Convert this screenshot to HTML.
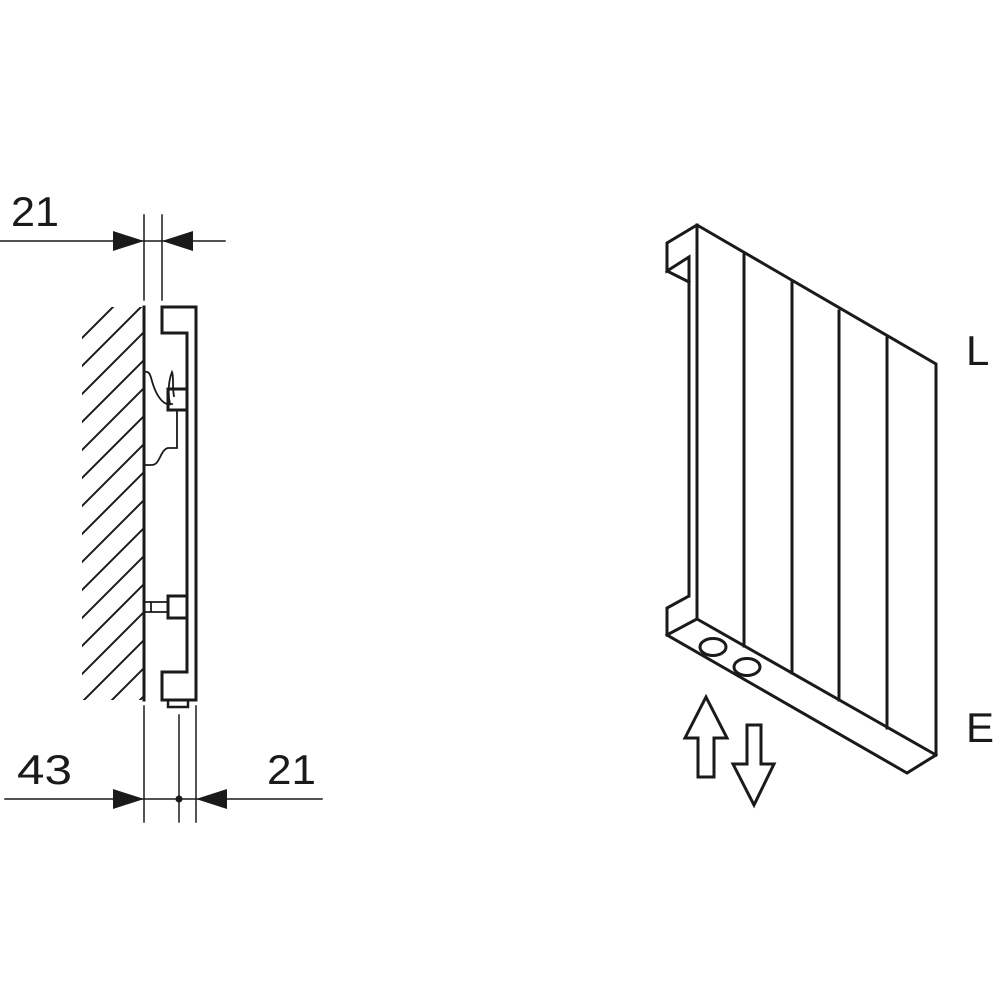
<!DOCTYPE html>
<html><head><style>body{margin:0;background:#fff}svg{display:block}text{font-family:"Liberation Sans",sans-serif;font-size:42px;fill:#1a1a1a}</style></head><body>
<svg width="1000" height="1000" viewBox="0 0 1000 1000" xmlns="http://www.w3.org/2000/svg">
<defs><clipPath id="h"><rect x="82" y="307" width="61" height="393"/></clipPath></defs>
<g stroke="#1a1a1a" fill="none" stroke-linecap="square">
<g clip-path="url(#h)" stroke-width="2">
<path d="M40 380L150 270M40 408L150 298M40 436L150 326M40 464L150 354M40 492L150 382M40 520L150 410M40 548L150 438M40 576L150 466M40 604L150 494M40 632L150 522M40 660L150 550M40 688L150 578M40 716L150 606M40 744L150 634M40 772L150 662M40 800L150 690M40 828L150 718"/>
</g>
<line x1="144" y1="307" x2="144" y2="700" stroke-width="3"/>
<g stroke-width="1.5">
<line x1="144" y1="215" x2="144" y2="300"/><line x1="162" y1="215" x2="162" y2="300"/>
<line x1="0" y1="241" x2="225" y2="241"/>
<line x1="144" y1="706" x2="144" y2="822"/><line x1="179" y1="715" x2="179" y2="822"/><line x1="196" y1="706" x2="196" y2="822"/>
<line x1="5" y1="799" x2="322" y2="799"/>
</g>
<path d="M162 307H196V700H162V672H187V333H162Z" stroke-width="3" stroke-linejoin="miter"/>
<rect x="168" y="700" width="20" height="7" stroke-width="2.5"/>
<rect x="168" y="389" width="19" height="21" stroke-width="3"/>
<path d="M144 372C152 370 150 380 156 392C160 400 165 406 172 404M172 410L177 410V448H168C160 450 160 465 152 465H146" stroke-width="1.8"/>
<path d="M170 404C168 395 168 382 172 372C174 376 172 388 174 396" stroke-width="1.8"/>
<rect x="168" y="596" width="19" height="22" stroke-width="3"/>
<path d="M145 602H166M145 612H166M151 602V612" stroke-width="1.8"/>
<g stroke-width="3" stroke-linejoin="miter">
<path d="M697 225L936 364V755L907 773L667 635V608L689 596V257L667 271V243Z"/>
<path d="M697 225V619L667 635M697 619L936 755M667 271L689 282M689 282V596"/>
<path d="M744 255V646M792 283V673M839 311V700M887 338V728"/>
<ellipse cx="713" cy="647" rx="13" ry="8.5"/>
<ellipse cx="747" cy="667" rx="13" ry="8.5"/>
<path d="M706 697L727 738H714V777H698V738H685Z"/>
<path d="M747 725H761V764H774L754 805L733 764H747Z"/>
</g>
</g>
<g fill="#1a1a1a">
<path d="M144 241L113 231V251Z"/><path d="M162 241L193 231V251Z"/>
<path d="M144 799L113 789V809Z"/><path d="M196 799L227 789V809Z"/>
<circle cx="179" cy="799" r="3.5"/>
</g>
<text x="11" y="226" textLength="48" lengthAdjust="spacingAndGlyphs">21</text>
<text x="17" y="784" textLength="55" lengthAdjust="spacingAndGlyphs">43</text>
<text x="267" y="784" textLength="49" lengthAdjust="spacingAndGlyphs">21</text>
<text x="966" y="365">L</text>
<text x="966" y="742">E</text>
</svg>
</body></html>
